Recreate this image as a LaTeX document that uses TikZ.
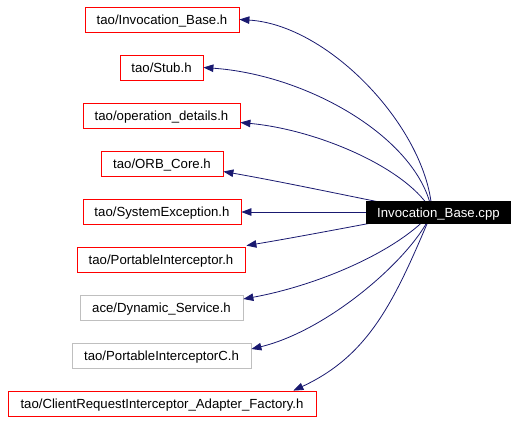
\documentclass[tikz,border=0pt]{standalone}
\usepackage{fontspec}
\setmainfont{Liberation Sans}
\usetikzlibrary{arrows.meta,calc}
\definecolor{edgeblue}{HTML}{191970}
\definecolor{boxred}{HTML}{FF0000}
\definecolor{boxgray}{HTML}{BFBFBF}
\tikzset{
  hdr/.style={draw=boxred, line width=0.8pt, minimum height=25pt, inner sep=0pt, text height=9.5pt, text depth=0pt, font=\fontsize{13.2}{15}\selectfont},
  hdrgray/.style={hdr, draw=boxgray},
  src/.style={fill=black, text=white, minimum height=23pt, minimum width=145pt, inner sep=0pt, text height=9.5pt, text depth=0pt, font=\fontsize{13.2}{15}\selectfont},
  dep/.style={draw=edgeblue, line width=0.8pt, -{Triangle[length=10pt,width=7.5pt]}}
}
\begin{document}
\begin{tikzpicture}[x=1pt,y=-1pt]
\useasboundingbox (0,0) rectangle (517,421);
\node[hdr, minimum width=154pt] (n1) at (162,19.5) {tao/Invocation\_Base.h};
\node[hdr, minimum width=83pt] (n2) at (161.5,67.5) {tao/Stub.h};
\node[hdr, minimum width=157pt] (n3) at (161.5,115.5) {tao/operation\_details.h};
\node[hdr, minimum width=122pt] (n4) at (162,163.5) {tao/ORB\_Core.h};
\node[hdr, minimum width=158pt] (n5) at (162,212) {tao/SystemException.h};
\node[hdr, minimum width=168pt] (n6) at (161,259.5) {tao/PortableInterceptor.h};
\node[hdrgray, minimum width=163pt] (n7) at (161.5,307.5) {ace/Dynamic\_Service.h};
\node[hdrgray, minimum width=179pt] (n8) at (161.5,355.5) {tao/PortableInterceptorC.h};
\node[hdr, minimum width=308pt] (n9) at (162,403.5) {tao/ClientRequestInterceptor\_Adapter\_Factory.h};
\coordinate (hub) at (432,212);
\draw[dep] (hub) .. controls (428,130) and (330,25) .. (n1.east);
\draw[dep] (hub) .. controls (420,140) and (310,75) .. (n2.east);
\draw[dep] (hub) .. controls (410,170) and (320,130) .. ($(n3.east)+(0,7)$);
\draw[dep] (hub) .. controls (380,203) and (300,185) .. ($(n4.east)+(0,8)$);
\draw[dep] (hub) -- (n5.east);
\draw[dep] (hub) .. controls (380,221) and (310,235) .. ($(n6.north east)+(1,-1)$);
\draw[dep] (hub) .. controls (400,250) and (320,285) .. ($(n7.east)+(0,-8.5)$);
\draw[dep] (hub) .. controls (415,255) and (330,330) .. ($(n8.east)+(0,-6.5)$);
\draw[dep] (hub) .. controls (395,300) and (370,355) .. ($(n9.north east)+(-23,0)$);
\node[src] (cpp) at (438.5,212.5) {Invocation\_Base.cpp};
\end{tikzpicture}
\end{document}
